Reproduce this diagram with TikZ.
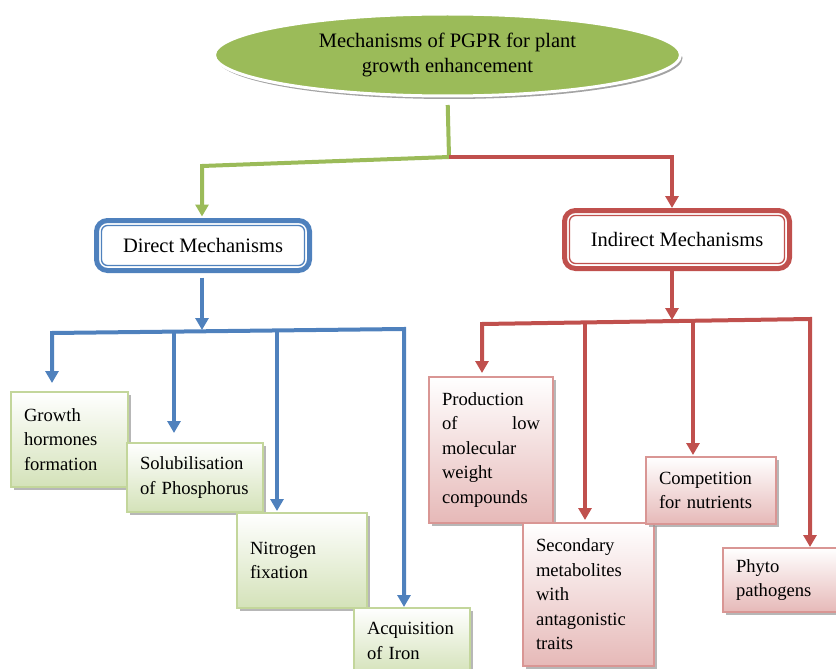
\documentclass[tikz,border=0pt]{standalone}
\usepackage{fontspec}
\setmainfont{Liberation Serif}
\usetikzlibrary{arrows.meta,shapes.geometric,shadows,calc}

\definecolor{leaf}{HTML}{9BBB59}
\definecolor{steel}{HTML}{4F81BD}
\definecolor{brick}{HTML}{C0504D}
\definecolor{gborder}{HTML}{C3D69B}
\definecolor{gbottom}{HTML}{D4E2B9}
\definecolor{rborder}{HTML}{D99694}
\definecolor{rbottom}{HTML}{E6B9B8}

\newcommand\bxfont{\fontsize{18.6}{24.5}\selectfont}
\newcommand\hdfont{\fontsize{20.5}{24.5}\selectfont}

\begin{document}
\begin{tikzpicture}[x=1pt,y=-1pt,
  link/.style={line width=4pt, line join=miter},
  tip/.style={-{Triangle[width=13pt,length=12pt]}},
  bothtips/.style={{Triangle[width=13pt,length=12pt]}-{Triangle[width=13pt,length=12pt]}},
  root/.style={ellipse, draw=white, line width=3pt, fill=leaf, outer sep=0pt,
    minimum width=466pt, minimum height=82pt, align=center, font=\hdfont,
    drop shadow={shadow xshift=2pt, shadow yshift=-3pt, fill=black!45, opacity=0.8}},
  headbox/.style={line width=5pt, rounded corners=11pt, fill=white, outer sep=0pt,
    font=\hdfont},
  leafbox/.style={draw=gborder, line width=1.2pt, top color=white, bottom color=gbottom,
    outer sep=0pt, align=left, inner xsep=13pt, inner ysep=0pt, font=\bxfont,
    drop shadow={shadow xshift=3pt, shadow yshift=-3pt, fill=black!40, opacity=0.7}},
  rosebox/.style={draw=rborder, line width=1.2pt, top color=white, bottom color=rbottom,
    outer sep=0pt, align=left, inner xsep=13pt, inner ysep=0pt, font=\bxfont,
    drop shadow={shadow xshift=3pt, shadow yshift=-3pt, fill=black!40, opacity=0.7}},
]
\useasboundingbox (0,0) rectangle (836,669);

% root ellipse
\node[root] (root) at (447.5,55) {Mechanisms of PGPR for plant\\growth enhancement};

% the two mechanism headers, each with a thin inner frame
\node[headbox, draw=steel, minimum width=213pt, minimum height=50pt] (direct) at (203,245.5) {Direct Mechanisms};
\draw[steel, line width=1.3pt, rounded corners=6pt]
  ([shift={(5,5)}]direct.north west) rectangle ([shift={(-5,-5)}]direct.south east);
\node[headbox, draw=brick, minimum width=225pt, minimum height=58pt] (indirect) at (677,239.5) {Indirect Mechanisms};
\draw[brick, line width=1.3pt, rounded corners=6pt]
  ([shift={(5,5)}]indirect.north west) rectangle ([shift={(-5,-5)}]indirect.south east);

% direct mechanisms
\node[leafbox, text width=91pt, minimum height=95pt] (growth) at (69.5,439.5) {Growth\\hormones\\formation};
\node[leafbox, text width=110pt, minimum height=69pt] (sol) at (195,477.5) {Solubilisation\\of Phosphorus};
\node[leafbox, text width=104pt, minimum height=95pt] (nitro) at (302,560.5) {Nitrogen\\fixation};
\node[leafbox, text width=90pt, minimum height=66pt] (acq) at (412,641) {Acquisition\\of Iron};

% indirect mechanisms
\node[rosebox, text width=98pt, minimum height=146pt] (prod) at (491,450) {Production\\of\hfill low\\molecular\\weight\\compounds};
\node[rosebox, text width=105pt, minimum height=143pt] (sec) at (588.5,594.5) {Secondary\\metabolites\\with\\antagonistic\\traits};
\node[rosebox, text width=104pt, minimum height=67pt] (comp) at (711,490.5) {Competition\\for nutrients};
\node[rosebox, text width=101pt, minimum height=64pt] (phyto) at (786.5,580) {Phyto\\pathogens};

% junction points
\coordinate (j0) at (449,157);
\coordinate (gl) at (202,166);
\coordinate (rr) at (672,157);
\coordinate (da) at (202,330);
\coordinate (bl) at (52,333);
\coordinate (b2) at (174,331.6);
\coordinate (b3) at (277,330.4);
\coordinate (br) at (404,329);
\coordinate (ia) at (672,320);
\coordinate (rl) at (482,324);
\coordinate (r2) at (585,322.4);
\coordinate (r3) at (693,320.8);
\coordinate (rrr) at (810,319);

% top split
\draw[link, leaf, tip, shorten <=9pt, shorten >=4pt] (root.south) -- (j0) -- (gl) -- (gl |- direct.north);
\draw[link, brick, tip, shorten >=2.5pt] (j0) -- (rr) -- (rr |- indirect.north);

% direct branch
\draw[link, steel, tip, shorten <=7pt] (da |- direct.south) -- (da);
\draw[link, steel, bothtips, shorten <=9pt, shorten >=1pt] (bl |- growth.north) -- (bl) -- (br) -- (br |- acq.north);
\draw[link, steel, tip, shorten >=10pt] (b2) -- (b2 |- sol.north);
\draw[link, steel, tip, shorten >=2pt] (b3) -- (b3 |- nitro.north);

% indirect branch
\draw[link, brick, tip] (ia |- indirect.south) -- (ia);
\draw[link, brick, bothtips, shorten <=4pt, shorten >=1pt] (rl |- prod.north) -- (rl) -- (rrr) -- (rrr |- phyto.north);
\draw[link, brick, tip, shorten >=3pt] (r2) -- (r2 |- sec.north);
\draw[link, brick, tip, shorten >=2pt] (r3) -- (r3 |- comp.north);
\end{tikzpicture}
\end{document}
